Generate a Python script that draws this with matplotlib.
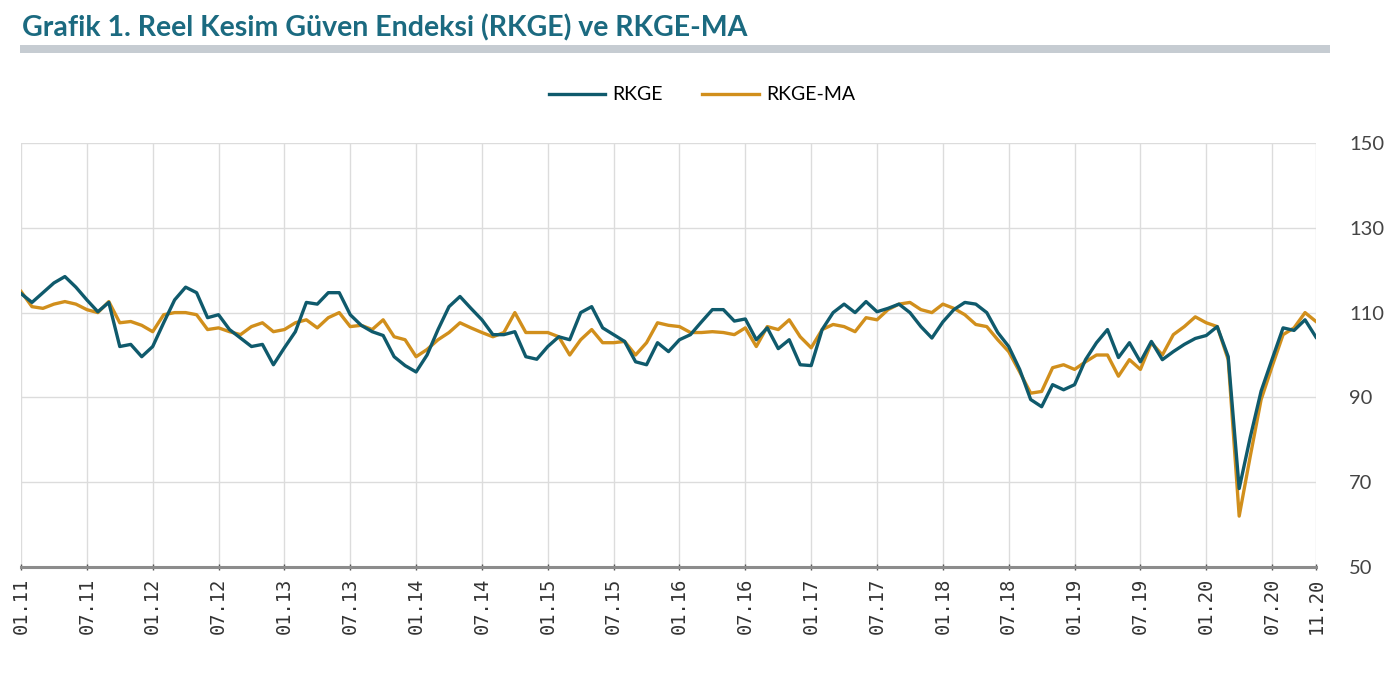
import numpy as np
import matplotlib.pyplot as plt
from matplotlib.patches import Rectangle

# aylık veriler 01.11 - 11.20
rkge = [
    114.5, 112.4, 114.7, 117.0, 118.5, 116.0, 113.0, 110.2, 112.4, 102.0,
    102.5, 99.6, 102.0, 107.6, 113.0, 116.0, 114.7, 108.8, 109.5, 106.0,
    104.0, 102.0, 102.5, 97.7, 101.7, 105.5, 112.4, 112.0, 114.7, 114.7,
    109.5, 107.0, 105.5, 104.6, 99.6, 97.5, 96.0, 100.0, 106.0, 111.4,
    113.8, 111.0, 108.3, 104.8, 104.8, 105.5, 99.6, 99.0, 102.0, 104.3,
    103.6, 110.0, 111.4, 106.4, 104.8, 103.2, 98.4, 97.7, 102.9, 100.8,
    103.6, 104.8, 107.8, 110.7, 110.7, 108.0, 108.5, 103.6, 106.4, 101.5,
    103.6, 97.7, 97.5, 106.0, 110.0, 112.0, 110.0, 112.6, 110.2, 111.0,
    112.0, 110.0, 106.7, 104.0, 107.8, 110.7, 112.4, 112.0, 110.0, 105.3,
    102.0, 96.6, 89.5, 87.8, 93.0, 91.8, 93.0, 98.9, 102.9, 106.0,
    99.4, 102.9, 98.4, 103.2, 98.9, 100.8, 102.5, 103.9, 104.6, 106.7,
    99.6, 68.5, 80.5, 91.5, 99.0, 106.4, 105.8, 108.3, 104.2,
]
rkge_ma = [
    115.0, 111.4, 111.0, 112.0, 112.6, 112.0, 110.7, 110.0, 112.6, 107.6,
    107.9, 107.0, 105.5, 109.5, 110.0, 110.0, 109.5, 106.0, 106.4, 105.5,
    104.8, 106.7, 107.6, 105.5, 106.0, 107.6, 108.3, 106.4, 108.8, 110.0,
    106.7, 107.0, 106.0, 108.3, 104.3, 103.6, 99.6, 101.3, 103.6, 105.3,
    107.6, 106.4, 105.3, 104.3, 105.3, 110.0, 105.3, 105.3, 105.3, 104.3,
    100.0, 103.6, 106.0, 102.9, 102.9, 103.2, 100.0, 102.9, 107.6, 107.0,
    106.7, 105.3, 105.3, 105.5, 105.3, 104.8, 106.4, 102.0, 106.7, 106.0,
    108.3, 104.3, 101.7, 106.0, 107.2, 106.7, 105.5, 108.8, 108.3, 110.7,
    112.0, 112.4, 110.7, 110.0, 112.0, 111.0, 109.5, 107.2, 106.7, 103.6,
    100.8, 96.0, 91.0, 91.4, 97.0, 97.7, 96.6, 98.4, 100.0, 100.0,
    95.0, 98.9, 96.6, 102.9, 100.0, 104.8, 106.7, 109.0, 107.6, 106.7,
    98.9, 62.0, 76.0, 89.5, 97.3, 104.8, 106.4, 110.0, 107.9,
]
tick_pos = [0, 6, 12, 18, 24, 30, 36, 42, 48, 54, 60, 66, 72, 78, 84, 90,
            96, 102, 108, 114, 118]
tick_labels = ["01.11", "07.11", "01.12", "07.12", "01.13", "07.13", "01.14",
               "07.14", "01.15", "07.15", "01.16", "07.16", "01.17", "07.17",
               "01.18", "07.18", "01.19", "07.19", "01.20", "07.20", "11.20"]
y_ticks = [50, 70, 90, 110, 130, 150]

teal = "#0f5a6c"
orange = "#d18f1c"

plt.rcParams["font.family"] = ["Lato", "DejaVu Sans"]
fig = plt.figure(figsize=(13.91, 6.75), dpi=100)

# başlık ve altındaki gri şerit
fig.text(22 / 1391, 1 - 28 / 675, "Grafik 1. Reel Kesim Güven Endeksi (RKGE) ve RKGE-MA",
         fontsize=20.5, fontweight="bold", color="#1b6a80", va="center", ha="left")
fig.add_artist(Rectangle((20 / 1391, 1 - 53 / 675), 1310 / 1391, 8 / 675,
                         transform=fig.transFigure, color="#c6ccd2", lw=0))

ax = fig.add_axes([21 / 1391, 1 - 567 / 675, 1295 / 1391, 424 / 675])
x = np.arange(len(rkge))
ax.plot(x, rkge_ma, color=orange, lw=2.4, label="RKGE-MA", zorder=2)
ax.plot(x, rkge, color=teal, lw=2.4, label="RKGE", zorder=3)

ax.set_xlim(0, 118)
ax.set_ylim(50, 150)
ax.set_yticks(y_ticks)
ax.yaxis.tick_right()
ax.tick_params(axis="y", length=0, pad=24, labelsize=14.5, labelcolor="#444444")
ax.set_xticks(tick_pos)
ax.set_xticklabels(tick_labels, rotation=90, family=["DejaVu Sans Mono"])
ax.tick_params(axis="x", length=5, width=1, color="#555555", direction="inout",
               labelsize=13.5, labelcolor="#333333", pad=5)

ax.grid(True, color="#dcdcdc", lw=1)
for s in ["top", "left", "right"]:
    ax.spines[s].set_visible(False)
ax.spines["bottom"].set_color("#8c8c8c")
ax.spines["bottom"].set_linewidth(2.2)

handles, labels = ax.get_legend_handles_labels()
fig.legend(handles[::-1], labels[::-1], loc="center", bbox_to_anchor=(702 / 1391, 1 - 95 / 675),
           ncol=2, frameon=False, fontsize=14, handlelength=2.9, columnspacing=2.0,
           handletextpad=0.4)

fig.savefig("out.png", dpi=100)
